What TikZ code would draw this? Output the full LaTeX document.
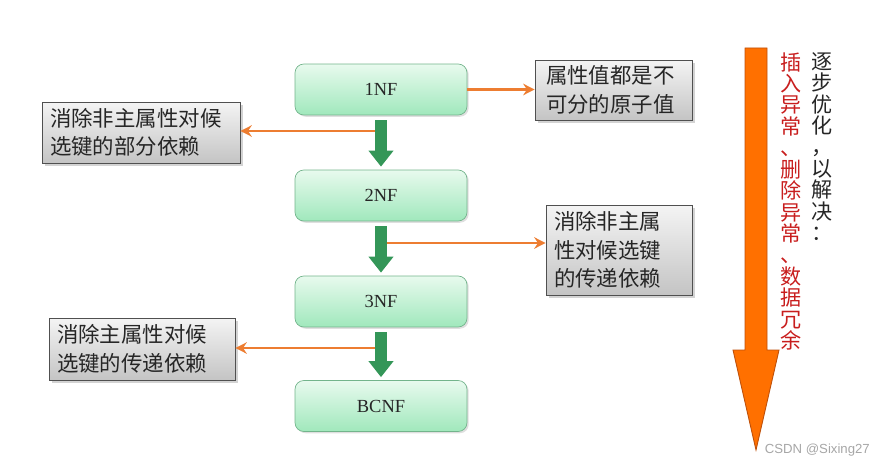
\documentclass[tikz,border=0pt]{standalone}
\usepackage{fontspec}
\setmainfont{Liberation Serif}
\newfontfamily\cjk{Noto Sans CJK SC}
\newfontfamily\wmfont{Liberation Sans}
\usepackage{tikz}
\usetikzlibrary{arrows.meta}
\usetikzlibrary{shadows}
\definecolor{nftop}{RGB}{232,250,238}
\definecolor{nfbot}{RGB}{160,232,188}
\definecolor{nfline}{RGB}{115,180,140}
\definecolor{notetop}{RGB}{244,244,244}
\definecolor{notebot}{RGB}{196,196,196}
\definecolor{noteline}{RGB}{80,80,80}
\definecolor{flowgreen}{RGB}{52,150,88}
\definecolor{linkorange}{RGB}{237,125,49}
\definecolor{bigorange}{RGB}{255,112,0}
\definecolor{bigline}{RGB}{190,80,10}
\definecolor{redtxt}{RGB}{200,30,30}

\begin{document}
\begin{tikzpicture}[x=0.02cm, y=-0.02cm,
        nf/.style={draw=nfline, rounded corners=5pt, top color=nftop, bottom color=nfbot,
            minimum width=3.44cm, minimum height=1.02cm, text=black!85,
            font=\fontsize{10.5}{12}\selectfont, drop shadow={shadow xshift=1pt, shadow yshift=-1pt, opacity=0.25}},
        note/.style={draw=noteline, top color=notetop, bottom color=notebot, align=left,
            inner xsep=0.16cm, inner ysep=2pt, text=black!85,
            font=\cjk\fontsize{12.2}{16.3}\selectfont, drop shadow={shadow xshift=1.5pt, shadow yshift=-1.5pt, opacity=0.35}},
        flow/.style={draw=flowgreen, line width=0.24cm, -{Triangle[length=0.32cm, width=0.48cm]},
            shorten <=0.1cm, shorten >=0.06cm},
        link/.style={draw=linkorange, line width=1.7pt, -{Stealth[length=6.5pt, width=6.5pt]}},
        vtext/.style={align=center, inner sep=0pt, font=\cjk\fontsize{12}{12.2}\selectfont}]
        \useasboundingbox (0,0) rectangle (888,476);
        % normal forms
        \node[nf] (nf1) at (381,89.5) {1NF};
        \node[nf] (nf2) at (381,195.5) {2NF};
        \node[nf] (nf3) at (381,301.5) {3NF};
        \node[nf] (bcnf) at (381,406) {BCNF};
        % what each step removes
        \node[note, text width=3.64cm, minimum height=1.22cm] (n1) at (141,132.5) {消除非主属性对候\\选键的部分依赖};
        \node[note, text width=2.7cm, minimum height=1.2cm, inner xsep=0.22cm] (r1) at (613.5,90) {属性值都是不\\可分的原子值};
        \node[note, text width=2.6cm, minimum height=1.8cm] (r2) at (619,250) {消除非主属\\性对候选键\\的传递依赖};
        \node[note, text width=3.4cm, minimum height=1.24cm] (l3) at (142,349) {消除主属性对候\\选键的传递依赖};
        % orange links
        \coordinate (a1) at (381,131);
        \coordinate (a2) at (381,243);
        \coordinate (a3) at (381,348);
        \draw[link] (nf1.east) -- (nf1.east -| r1.west);
        \draw[link] (a1) -- (a1 -| n1.east);
        \draw[link] (a2) -- (a2 -| r2.west);
        \draw[link] (a3) -- (a3 -| l3.east);
        % green steps
        \draw[flow] (nf1) -- (nf2);
        \draw[flow] (nf2) -- (nf3);
        \draw[flow] (nf3) -- (bcnf);
        % big arrow on the right
        \filldraw[draw=bigline, fill=bigorange, line width=0.5pt] (745,48) -- (767,48) -- (767,350) -- (779,350)
            -- (756,450) -- (733,350) -- (745,350) -- cycle;
        \node[vtext, text=redtxt, anchor=north] (bad) at (791,52) {插\\入\\异\\常\\、\\删\\除\\异\\常\\、\\数\\据\\冗\\余};
        \node[vtext, text=black!85, anchor=north] (aim) at (822,52) {逐\\步\\优\\化\\，\\以\\解\\决\\：};
        \node[font=\wmfont\fontsize{7.5}{9}\selectfont, text=gray!70, anchor=east] (mark) at (876,450) {CSDN @Sixing27};
    \end{tikzpicture}
\end{document}
